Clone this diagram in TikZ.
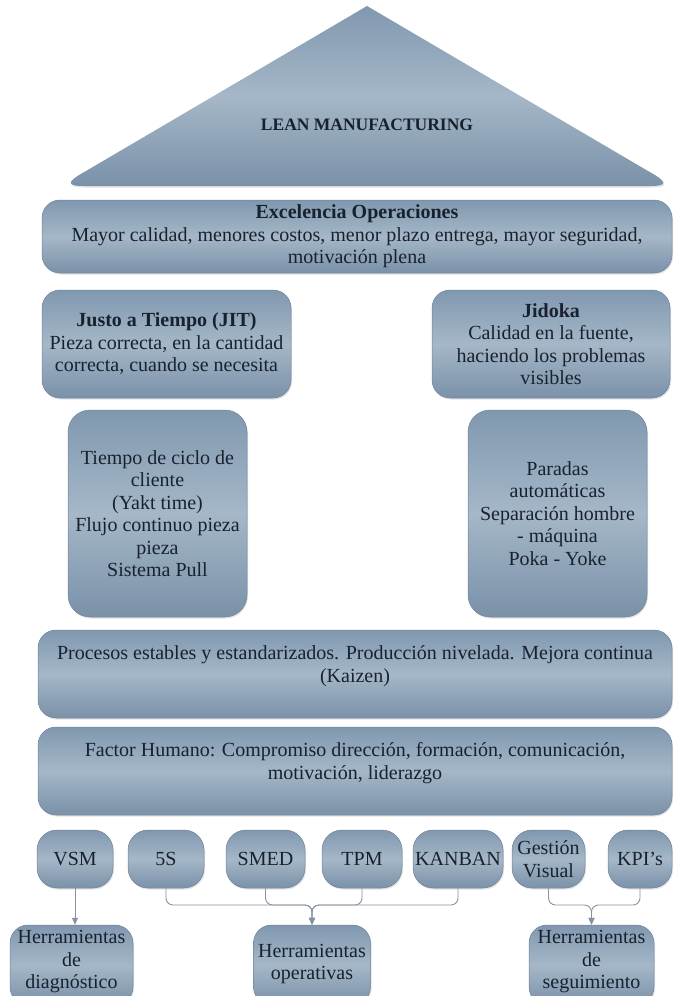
\documentclass[tikz,border=0pt]{standalone}
\usepackage{fontspec}
\setmainfont{Liberation Serif}
\usetikzlibrary{shadows,arrows.meta}

\definecolor{bxTop}{HTML}{8098AF}
\definecolor{bxMid}{HTML}{A5B7C8}
\definecolor{bxBot}{HTML}{7A91A8}
\definecolor{bxEdge}{HTML}{6E8399}
\definecolor{ink}{HTML}{18222F}
\definecolor{wire}{HTML}{8793A1}

\newcommand\bodyfont{\fontsize{20}{22.5}\selectfont}

\tikzset{
  panel/.style={rounded corners=18pt, top color=bxTop, bottom color=bxBot, middle color=bxMid,
    draw=bxEdge, line width=0.5pt, text=ink, align=center, inner sep=0pt, font=\bodyfont,
    drop shadow={opacity=0.22, shadow xshift=1pt, shadow yshift=-1.5pt}},
  label/.style={text=ink, align=center, inner sep=0pt, font=\bodyfont},
  tool/.style={panel, rounded corners=20pt, minimum height=58pt},
  outcome/.style={panel, rounded corners=18pt, minimum height=80pt},
  wire/.style={draw=wire, line width=0.9pt, rounded corners=7pt,
    -{Triangle[length=7pt, width=6pt]}},
}

\begin{document}
\begin{tikzpicture}[x=1pt, y=-1pt]
\useasboundingbox (0,0) rectangle (674,996);

% roof
\shade[top color=bxTop, bottom color=bxBot, middle color=bxMid,
       drop shadow={opacity=0.22, shadow xshift=1pt, shadow yshift=-1.5pt}]
  (367,6) -- (86,171) .. controls (66,182) and (66,186) .. (84,186)
  -- (650,186) .. controls (668,186) and (668,182) .. (648,171) -- cycle;
\node[label, font=\fontsize{17.5}{20}\selectfont\bfseries] (lean) at (367,125) {LEAN MANUFACTURING};

% goal band
\node[panel, minimum width=630pt, minimum height=73pt] (exc) at (357,236.5)
  {\textbf{Excelencia Operaciones}\\Mayor calidad, menores costos, menor plazo entrega, mayor seguridad,\\motivación plena};

% pillars
\node[panel, minimum width=249pt, minimum height=108pt] (jit) at (166.5,344)
  {\textbf{Justo a Tiempo (JIT)}\\Pieza correcta, en la cantidad\\correcta, cuando se necesita};
\node[panel, minimum width=238pt, minimum height=108pt] (jid) at (551,344)
  {\textbf{Jidoka}\\Calidad en la fuente,\\haciendo los problemas\\visibles};

\node[panel, rounded corners=22pt, minimum width=179pt, minimum height=207pt] (tie) at (157.5,513.5)
  {Tiempo de ciclo de\\cliente\\(Yakt time)\\Flujo continuo pieza\\pieza\\Sistema Pull};
\node[panel, rounded corners=22pt, minimum width=179pt, minimum height=207pt] (par) at (557.5,513.5)
  {Paradas\\automáticas\\Separación hombre\\- máquina\\Poka - Yoke};

% foundations
\node[panel, minimum width=634pt, minimum height=88pt] (proc) at (355,674) {};
\node[label] (proc-t) at ([yshift=8pt]proc.center)
  {Procesos estables y estandarizados. Producción nivelada. Mejora continua\\(Kaizen)};
\node[panel, minimum width=634pt, minimum height=88pt] (fac) at (355,771) {};
\node[label] (fac-t) at ([yshift=8pt]fac.center)
  {Factor Humano: Compromiso dirección, formación, comunicación,\\motivación, liderazgo};

% tools
\node[tool, minimum width=76pt] (vsm)  at (75,859)    {VSM};
\node[tool, minimum width=76pt] (s5)   at (166,859)   {5S};
\node[tool, minimum width=79pt] (smed) at (265.5,859) {SMED};
\node[tool, minimum width=80pt] (tpm)  at (362,859)   {TPM};
\node[tool, minimum width=90pt] (kan)  at (458,859)   {KANBAN};
\node[tool, minimum width=73pt] (ges)  at (548.5,859) {Gestión\\Visual};
\node[tool, minimum width=64pt] (kpi)  at (640,859)   {KPI’s};

% tool families
\node[outcome, minimum width=123pt] (hd) at (71.5,965)  {};
\node[label] (hd-t) at ([yshift=3pt]hd.center) {Herramientas\\de\\diagnóstico};
\node[outcome, minimum width=117pt] (ho) at (312,965)   {};
\node[label] (ho-t) at ([yshift=1pt]ho.center) {Herramientas\\operativas};
\node[outcome, minimum width=125pt] (hs) at (591.5,965) {};
\node[label] (hs-t) at ([yshift=3pt]hs.center) {Herramientas\\de\\seguimiento};

% connectors
\coordinate (bus) at (0,905);
\draw[wire] (vsm.south) -- (vsm.south |- hd.north);
\foreach \s in {s5,smed,tpm,kan}
  \draw[wire] (\s.south) -- (\s.south |- bus) -| (ho.north);
\foreach \s in {ges,kpi}
  \draw[wire] (\s.south) -- (\s.south |- bus) -| (hs.north);
\end{tikzpicture}
\end{document}
